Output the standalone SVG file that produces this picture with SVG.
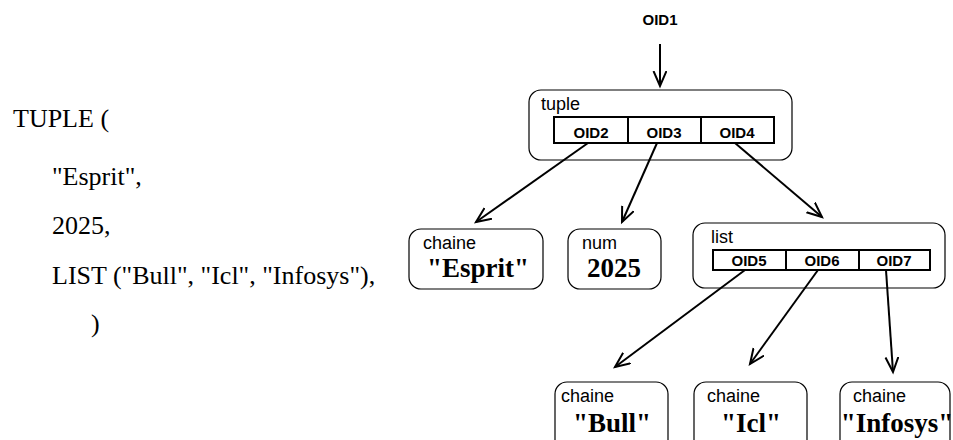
<svg xmlns="http://www.w3.org/2000/svg" width="953" height="440" viewBox="0 0 953 440">
<defs>
<marker id="ah" markerWidth="20" markerHeight="20" refX="15" refY="7" orient="auto" markerUnits="userSpaceOnUse">
<path d="M0,0.5 L15,7 L0,13.5" fill="none" stroke="#000" stroke-width="2"/>
</marker>
<style>
.src{font-family:"Liberation Serif",serif;font-size:26px;fill:#000}
.box{fill:#fff;stroke:#000;stroke-width:1.2}
.cell{fill:#fff;stroke:#000;stroke-width:2}
.typ{font-family:"Liberation Sans",Arial,sans-serif;font-size:18px;fill:#000}
.oid{font-family:"Liberation Sans",Arial,sans-serif;font-size:15px;font-weight:bold;fill:#000;text-anchor:middle}
.val{font-family:"Liberation Serif",serif;font-size:27px;font-weight:bold;fill:#000;text-anchor:middle}
.edge{stroke:#000;stroke-width:2;fill:none;marker-end:url(#ah)}
</style>
</defs>
<rect width="953" height="440" fill="#fff"/>
<g id="source">
<text class="src" x="13" y="127">TUPLE (</text>
<text class="src" x="52" y="185">"Esprit",</text>
<text class="src" x="52" y="234">2025,</text>
<text class="src" x="52" y="284">LIST ("Bull", "Icl", "Infosys"),</text>
<text class="src" x="91" y="332">)</text>
</g>
<g id="oid1"><text class="oid" x="660" y="25">OID1</text></g>
<g id="tuple">
<rect class="box" x="529" y="90" width="263" height="70" rx="12"/>
<text class="typ" x="541" y="110">tuple</text>
<rect class="cell" x="554" y="117" width="74" height="26"/>
<rect class="cell" x="628" y="117" width="73" height="26"/>
<rect class="cell" x="701" y="117" width="73" height="26"/>
<text class="oid" x="591" y="138">OID2</text>
<text class="oid" x="664" y="138">OID3</text>
<text class="oid" x="737" y="138">OID4</text>
</g>
<g id="esprit">
<rect class="box" x="409" y="229" width="134" height="60" rx="12"/>
<text class="typ" x="423" y="249">chaine</text>
<text class="val" x="478" y="277">"Esprit"</text>
</g>
<g id="num">
<rect class="box" x="568" y="229" width="93" height="60" rx="12"/>
<text class="typ" x="582" y="249">num</text>
<text class="val" x="614" y="277">2025</text>
</g>
<g id="list">
<rect class="box" x="693" y="223" width="252" height="65" rx="12"/>
<text class="typ" x="711" y="243">list</text>
<rect class="cell" x="713" y="250" width="73" height="20"/>
<rect class="cell" x="786" y="250" width="73" height="20"/>
<rect class="cell" x="859" y="250" width="71" height="20"/>
<text class="oid" x="749" y="266">OID5</text>
<text class="oid" x="822" y="266">OID6</text>
<text class="oid" x="894" y="266">OID7</text>
</g>
<g id="bull">
<rect class="box" x="555" y="382" width="113" height="70" rx="12"/>
<text class="typ" x="561" y="402">chaine</text>
<text class="val" x="612" y="432">"Bull"</text>
</g>
<g id="icl">
<rect class="box" x="694" y="382" width="113" height="70" rx="12"/>
<text class="typ" x="707" y="402">chaine</text>
<text class="val" x="751" y="432">"Icl"</text>
</g>
<g id="infosys">
<rect class="box" x="840" y="382" width="110" height="70" rx="12"/>
<text class="typ" x="853" y="402">chaine</text>
<text class="val" x="897" y="432">"Infosys"</text>
</g>
<g id="connectors">
<line class="edge" x1="660" y1="44" x2="660" y2="86"/>
<line class="edge" x1="588" y1="143" x2="476" y2="222"/>
<line class="edge" x1="657" y1="143" x2="622" y2="222"/>
<line class="edge" x1="735" y1="143" x2="822" y2="217"/>
<line class="edge" x1="745" y1="270" x2="615" y2="367"/>
<line class="edge" x1="818" y1="270" x2="750" y2="364"/>
<line class="edge" x1="886" y1="270" x2="893" y2="372"/>
</g>
</svg>
